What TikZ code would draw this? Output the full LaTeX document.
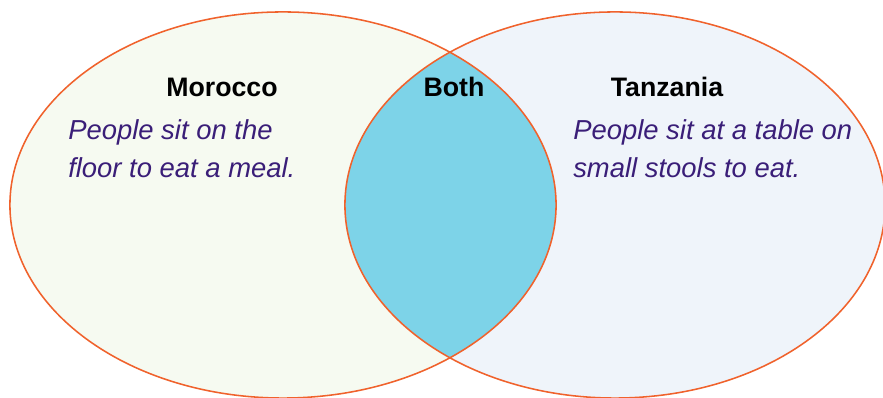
\documentclass[tikz,border=0pt]{standalone}
\usepackage{fontspec}
\setmainfont{Liberation Sans}
\usepackage{tikz}
\usetikzlibrary{positioning}
\definecolor{Rim}{HTML}{F0622C}
\definecolor{Ink}{HTML}{3A1E78}
\definecolor{SoftGreen}{HTML}{F6FAF1}
\definecolor{SoftBlue}{HTML}{EFF4FA}
\definecolor{Lens}{HTML}{7DD3E8}

\begin{document}
\begin{tikzpicture}[
  x=0.025cm,y=-0.025cm,
  rim/.style={draw=Rim,line width=1.1pt},
  title/.style={font=\bfseries\fontsize{19}{21}\selectfont,text=black,inner sep=0pt},
  note/.style={font=\itshape\fontsize{19.5}{27}\selectfont,text=Ink,align=left,anchor=west,inner sep=0pt}
]
\useasboundingbox (0,0) rectangle (883,398);
\fill[white] (0,0) rectangle (883,398);
% the two sets
\fill[SoftGreen] (283,205) ellipse [x radius=6.825cm,y radius=4.825cm];
\fill[SoftBlue] (615,205) ellipse [x radius=6.75cm,y radius=4.825cm];
\begin{scope}
  \clip (283,205) ellipse [x radius=6.825cm,y radius=4.825cm];
  \fill[Lens] (615,205) ellipse [x radius=6.75cm,y radius=4.825cm];
\end{scope}
\draw[rim] (283,205) ellipse [x radius=6.825cm,y radius=4.825cm];
\draw[rim] (615,205) ellipse [x radius=6.75cm,y radius=4.825cm];
% headings
\node[title] (mor) at (222,87) {Morocco};
\node[title] (both) at (454,87) {Both};
\node[title] (tan) at (667,87) {Tanzania};
% what each one does
\node[note] (morN) at (68,149) {People sit on the\\floor to eat a meal.};
\node[note] (tanN) at (573,149) {People sit at a table on\\small stools to eat.};
\end{tikzpicture}
\end{document}
